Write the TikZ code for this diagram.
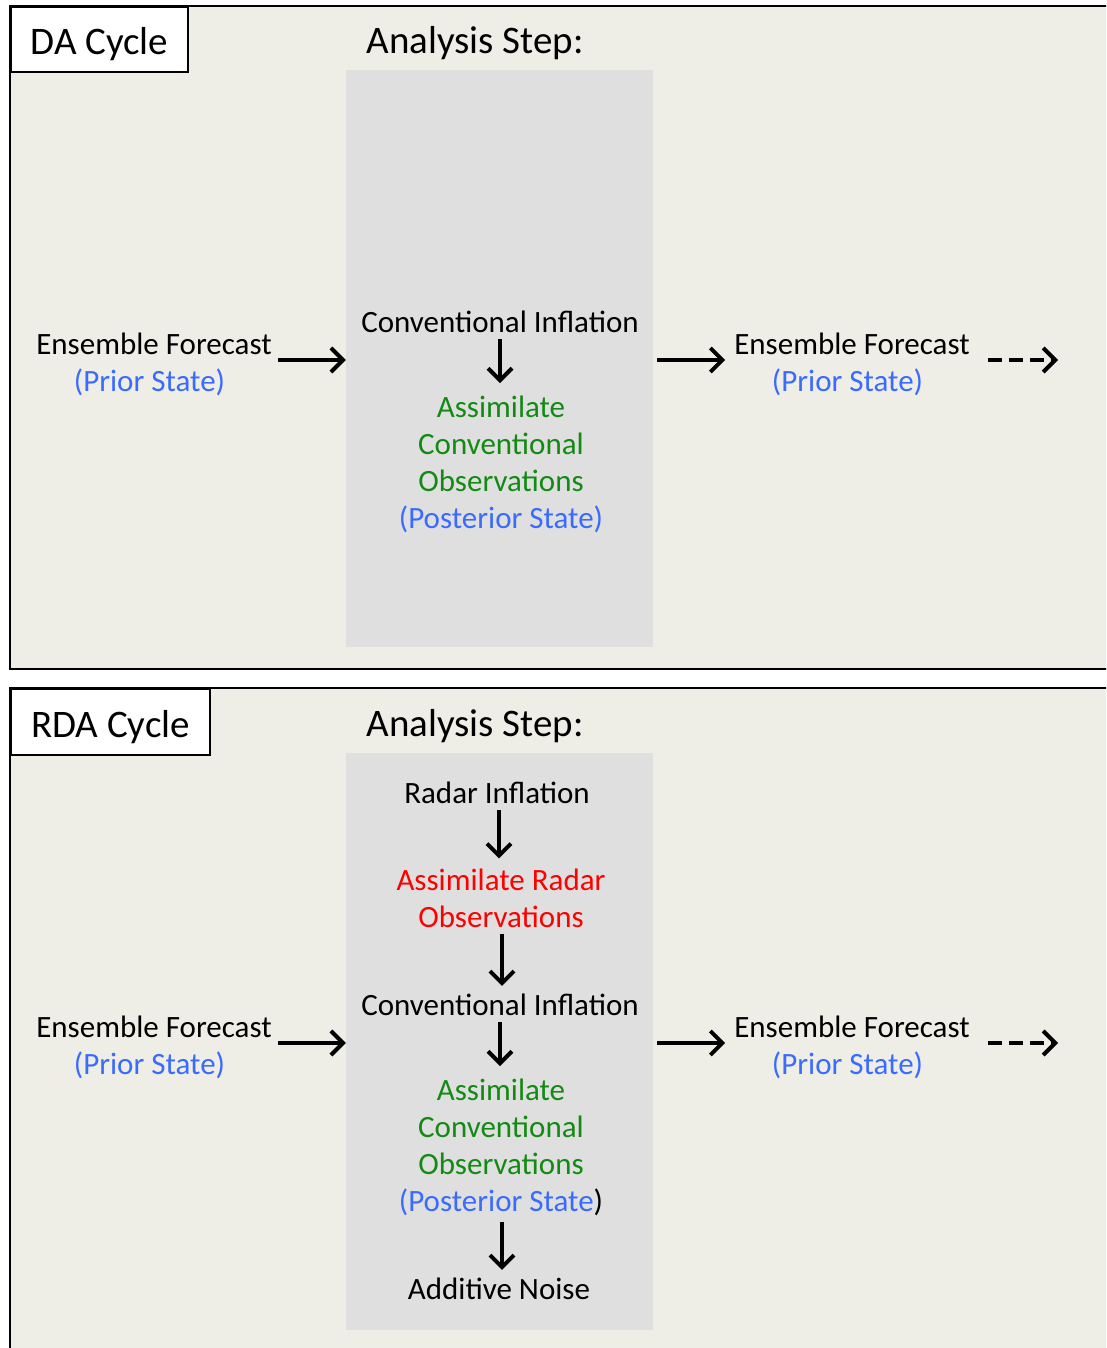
\documentclass[tikz,border=0pt]{standalone}
\usepackage{fontspec}
\setmainfont{Carlito}
\usepackage{tikz}
\usetikzlibrary{arrows.meta}

\definecolor{panelbg}{HTML}{EFEEE6}
\definecolor{stepbg}{HTML}{DFDFDF}
\definecolor{stateblue}{HTML}{3A6BFF}
\definecolor{convgreen}{HTML}{138A13}
\definecolor{radarred}{HTML}{FF0000}

\begin{document}
\begin{tikzpicture}[x=1pt, y=-1pt,
	every node/.style={font=\fontsize{31}{37}\selectfont, inner sep=2pt},
	>={Straight Barb[length=12pt, width=24pt, line width=4pt]},
	flow/.style={->, line width=4pt},
	panel/.style={draw, line width=2pt, fill=panelbg},
	tag/.style={draw, line width=2pt, fill=white, font=\fontsize{39}{45}\selectfont, inner sep=0pt, text height=31pt, text depth=0pt, anchor=north west},
	title/.style={font=\fontsize{39}{45}\selectfont},
	txt/.style={align=center}]
	\clip (0,0) rectangle (1106,1348);

	% DA cycle
	\draw[panel] (10,6) rectangle (1130,669);
	\node[tag, minimum width=177pt, minimum height=65pt] (da) at (10,6) {DA Cycle};
	\node[title] (as1) at (475,43) {Analysis Step:};
	\fill[stepbg] (346,70) rectangle (653,647);
	\node[inner sep=0pt, minimum width=307pt, minimum height=577pt] (step1) at (499.5,358.5) {};
	\node (ci1) at (500,322) {Conventional Inflation};
	\node[txt] (ac1) at (501,464) {\textcolor{convgreen}{Assimilate}\\\textcolor{convgreen}{Conventional}\\\textcolor{convgreen}{Observations}\\\textcolor{stateblue}{(Posterior State)}};
	\node[txt] (efl1) at (154,364) {Ensemble Forecast\\\textcolor{stateblue}{(Prior State)}\hspace*{9pt}};
	\node[txt] (efr1) at (852,364) {Ensemble Forecast\\\textcolor{stateblue}{(Prior State)}\hspace*{9pt}};
	\coordinate (next1) at (1058,360);
	\draw[flow] (ci1.south) ++(0,4) -- ++(0,44);
	\draw[flow] (efl1.east |- 0,360) ++(4,0) -- (step1.west |- 0,360);
	\draw[flow] (step1.east |- 0,360) ++(4,0) -- ++(68,0);
	\draw[flow, dash pattern=on 14pt off 7pt] (efr1.east |- 0,360) ++(16,0) -- (next1);

	% RDA cycle
	\draw[panel] (10,688) rectangle (1130,1370);
	\node[tag, minimum width=199pt, minimum height=66pt] (rda) at (10,688) {RDA Cycle};
	\node[title] (as2) at (475,726) {Analysis Step:};
	\fill[stepbg] (346,753) rectangle (653,1330);
	\node[inner sep=0pt, minimum width=307pt, minimum height=577pt] (step2) at (499.5,1041.5) {};
	\node (ri2) at (497,793) {Radar Inflation};
	\node[txt, radarred] (ar2) at (501,898) {Assimilate Radar\\Observations};
	\node (ci2) at (500,1005) {Conventional Inflation};
	\node[txt] (ac2) at (501,1147) {\textcolor{convgreen}{Assimilate}\\\textcolor{convgreen}{Conventional}\\\textcolor{convgreen}{Observations}\\\textcolor{stateblue}{(Posterior State})};
	\node (an2) at (499,1289) {Additive Noise};
	\node[txt] (efl2) at (154,1047) {Ensemble Forecast\\\textcolor{stateblue}{(Prior State)}\hspace*{9pt}};
	\node[txt] (efr2) at (852,1047) {Ensemble Forecast\\\textcolor{stateblue}{(Prior State)}\hspace*{9pt}};
	\coordinate (next2) at (1058,1043);
	\draw[flow] ([yshift=-4pt]ri2.south -| 499,0) -- ([yshift=8pt]ar2.north -| 499,0);
	\draw[flow] ([yshift=-4pt]ar2.south -| 502,0) -- ([yshift=6pt]ci2.north -| 502,0);
	\draw[flow] (ci2.south) ++(0,4) -- ++(0,44);
	\draw[flow] ([yshift=-4pt]ac2.south -| 502,0) -- ([yshift=6pt]an2.north -| 502,0);
	\draw[flow] (efl2.east |- 0,1043) ++(4,0) -- (step2.west |- 0,1043);
	\draw[flow] (step2.east |- 0,1043) ++(4,0) -- ++(68,0);
	\draw[flow, dash pattern=on 14pt off 7pt] (efr2.east |- 0,1043) ++(16,0) -- (next2);
\end{tikzpicture}
\end{document}
